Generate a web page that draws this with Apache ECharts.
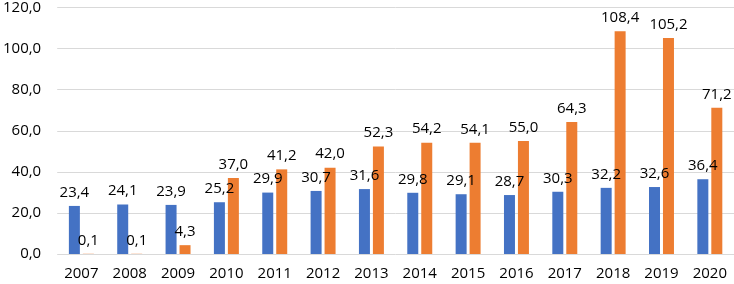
<!DOCTYPE html>
<html>
<head>
<meta charset="utf-8">
<script src="https://cdn.jsdelivr.net/npm/echarts@6/dist/echarts.min.js"></script>
<style>
  html, body { margin: 0; padding: 0; background: #fff; }
  #chart { width: 734px; height: 284px; }
</style>
</head>
<body>
<div id="chart"></div>
<script>
// years on the x axis
var years = ['2007', '2008', '2009', '2010', '2011', '2012', '2013', '2014', '2015', '2016', '2017', '2018', '2019', '2020'];
// blue series
var seriesA = [23.4, 24.1, 23.9, 25.2, 29.9, 30.7, 31.6, 29.8, 29.1, 28.7, 30.3, 32.2, 32.6, 36.4];
// orange series
var seriesB = [0.1, 0.1, 4.3, 37.0, 41.2, 42.0, 52.3, 54.2, 54.1, 55.0, 64.3, 108.4, 105.2, 71.2];
// y axis ticks
var yMin = 0, yMax = 120, yStep = 20;

var font = '"Open Sans", sans-serif';
var fmt = function (v) { return Number(v).toFixed(1).replace('.', ','); };

var chart = echarts.init(document.getElementById('chart'));

function barSeries(data, color) {
    return {
        type: 'bar',
        data: data,
        barWidth: 11,
        barGap: '27%',
        itemStyle: { color: color },
        label: {
            show: true,
            position: 'top',
            distance: 6,
            color: '#000',
            fontFamily: font,
            fontSize: 15,
            formatter: function (p) { return fmt(p.value); }
        }
    };
}

chart.setOption({
    animation: false,
    grid: {
        left: 56,
        right: -2,
        top: 6,
        bottom: 30
    },
    xAxis: {
        type: 'category',
        data: years,
        axisLine: { show: false },
        axisTick: { show: false },
        axisLabel: {
            color: '#000',
            fontFamily: font,
            fontSize: 15,
            margin: 12
        }
    },
    yAxis: {
        type: 'value',
        min: yMin,
        max: yMax,
        interval: yStep,
        axisLine: { show: false },
        axisTick: { show: false },
        splitLine: { lineStyle: { color: '#d9d9d9', width: 1 } },
        axisLabel: {
            color: '#000',
            fontFamily: font,
            fontSize: 15,
            margin: 16,
            formatter: fmt
        }
    },
    series: [
        barSeries(seriesA, '#4472C4'),
        barSeries(seriesB, '#ED7D31')
    ]
});
</script>
</body>
</html>
